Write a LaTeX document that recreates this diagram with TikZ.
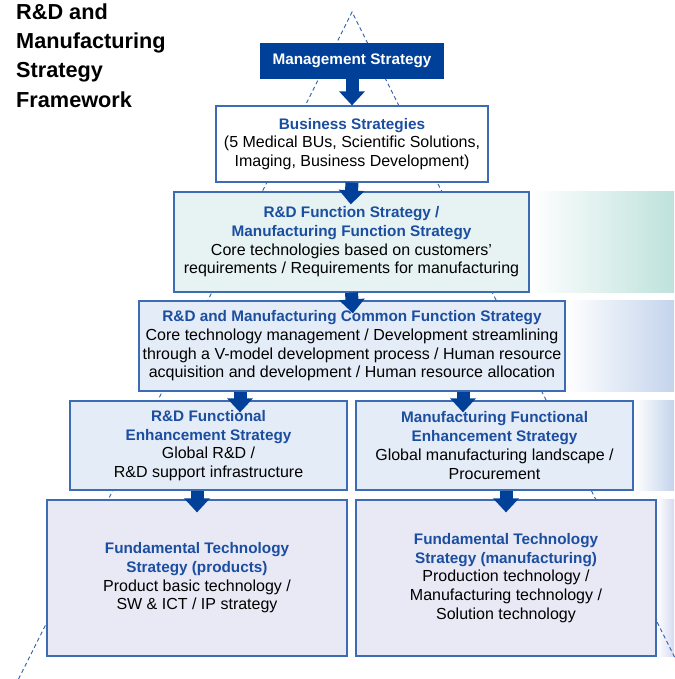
\documentclass[tikz,border=0pt]{standalone}
\usepackage{fontspec}
\setmainfont{Liberation Sans}
\usepackage{xcolor}
\usetikzlibrary{arrows.meta,backgrounds}
\definecolor{darkblue}{RGB}{0,64,152}
\definecolor{boxline}{RGB}{62,108,180}
\definecolor{headblue}{RGB}{28,78,160}
\definecolor{dashblue}{RGB}{45,95,170}
\definecolor{tealfill}{RGB}{230,243,242}
\definecolor{tealband}{RGB}{190,226,220}
\definecolor{bluefill}{RGB}{228,236,247}
\definecolor{blueband}{RGB}{196,212,236}
\definecolor{lavfill}{RGB}{232,233,245}
\definecolor{lavband}{RGB}{214,218,240}
\newcommand{\hdtxt}[1]{{\bfseries\fontsize{15.3}{18.7}\selectfont\color{headblue}#1}}

\begin{document}
\begin{tikzpicture}[x=1pt,y=-1pt,
  box/.style={draw=boxline, line width=1.2pt, inner sep=0pt, align=center, font=\fontsize{16}{18.7}\selectfont},
  flow/.style={draw=darkblue, line width=13pt, -{Triangle[width=25pt,length=14pt]}},
  tri/.style={draw=dashblue, dashed, dash pattern=on 4pt off 3pt, line width=0.9pt}]
\useasboundingbox (0,0) rectangle (674,679);
\clip (0,0) rectangle (674,679);
\coordinate (edge) at (674,0);

\node[inner sep=0pt, anchor=north west, align=left, font=\bfseries\fontsize{21.7}{29.2}\selectfont] (title) at (16,3.5)
  {R\&D and\\Manufacturing\\Strategy\\Framework};

\node[box, fill=darkblue, draw=darkblue, text=white, font=\bfseries\fontsize{15.3}{18.7}\selectfont,
  minimum width=182pt, minimum height=34pt] (mgmt) at (352,61) {Management Strategy};
\node[box, fill=white, minimum width=272pt, minimum height=76pt] (bus) at (352,144)
  {\hdtxt{Business Strategies}\\(5 Medical BUs, Scientific Solutions,\\Imaging, Business Development)};
\node[box, fill=tealfill, minimum width=355pt, minimum height=100pt] (rdf) at (351.5,242)
  {\hdtxt{R\&D Function Strategy /}\\\hdtxt{Manufacturing Function Strategy}\\Core technologies based on customers'\\requirements / Requirements for manufacturing};
\node[box, fill=bluefill, minimum width=426pt, minimum height=90pt] (com) at (352,346)
  {\hdtxt{R\&D and Manufacturing Common Function Strategy}\\Core technology management / Development streamlining\\through a V-model development process / Human resource\\acquisition and development / Human resource allocation};
\node[box, fill=bluefill, minimum width=277pt, minimum height=89pt] (enhL) at (208.5,445.5)
  {\hdtxt{R\&D Functional}\\\hdtxt{Enhancement Strategy}\\Global R\&D /\\R\&D support infrastructure};
\node[box, fill=bluefill, minimum width=277pt, minimum height=89pt] (enhR) at (494.5,445.5)
  {\hdtxt{Manufacturing Functional}\\\hdtxt{Enhancement Strategy}\\Global manufacturing landscape /\\Procurement};
\node[box, fill=lavfill, minimum width=300pt, minimum height=156pt] (fundL) at (197,578)
  {\hdtxt{Fundamental Technology}\\\hdtxt{Strategy (products)}\\Product basic technology /\\SW \& ICT / IP strategy};
\node[box, fill=lavfill, minimum width=300pt, minimum height=156pt] (fundR) at (506,578)
  {\hdtxt{Fundamental Technology}\\\hdtxt{Strategy (manufacturing)}\\Production technology /\\Manufacturing technology /\\Solution technology};

\begin{scope}[on background layer]
\shade[left color=white, right color=tealband] (rdf.north east) rectangle (rdf.south -| edge);
\shade[left color=white, right color=blueband] (com.north east) rectangle (com.south -| edge);
\shade[left color=white, right color=blueband] (enhR.north east) rectangle (enhR.south -| edge);
\shade[left color=white, right color=lavband] (fundR.north east) rectangle (fundR.south -| edge);
\draw[tri] (18.5,679) -- (352,12) -- (685.5,679);
\end{scope}

\draw[flow] (mgmt.south) -- (bus.north);
\draw[flow, shorten >=-13pt] (bus.south) -- (rdf.north);
\draw[flow, shorten >=-13pt] (rdf.south) -- (com.north);
\draw[flow, shorten >=-12pt] ([xshift=31.5pt]enhL.north |- com.south) -- ([xshift=31.5pt]enhL.north);
\draw[flow, shorten >=-12pt] ([xshift=-31.5pt]enhR.north |- com.south) -- ([xshift=-31.5pt]enhR.north);
\draw[flow, shorten >=-13pt] (fundL.north |- enhL.south) -- (fundL.north);
\draw[flow, shorten >=-13pt] (fundR.north |- enhR.south) -- (fundR.north);
\end{tikzpicture}
\end{document}
